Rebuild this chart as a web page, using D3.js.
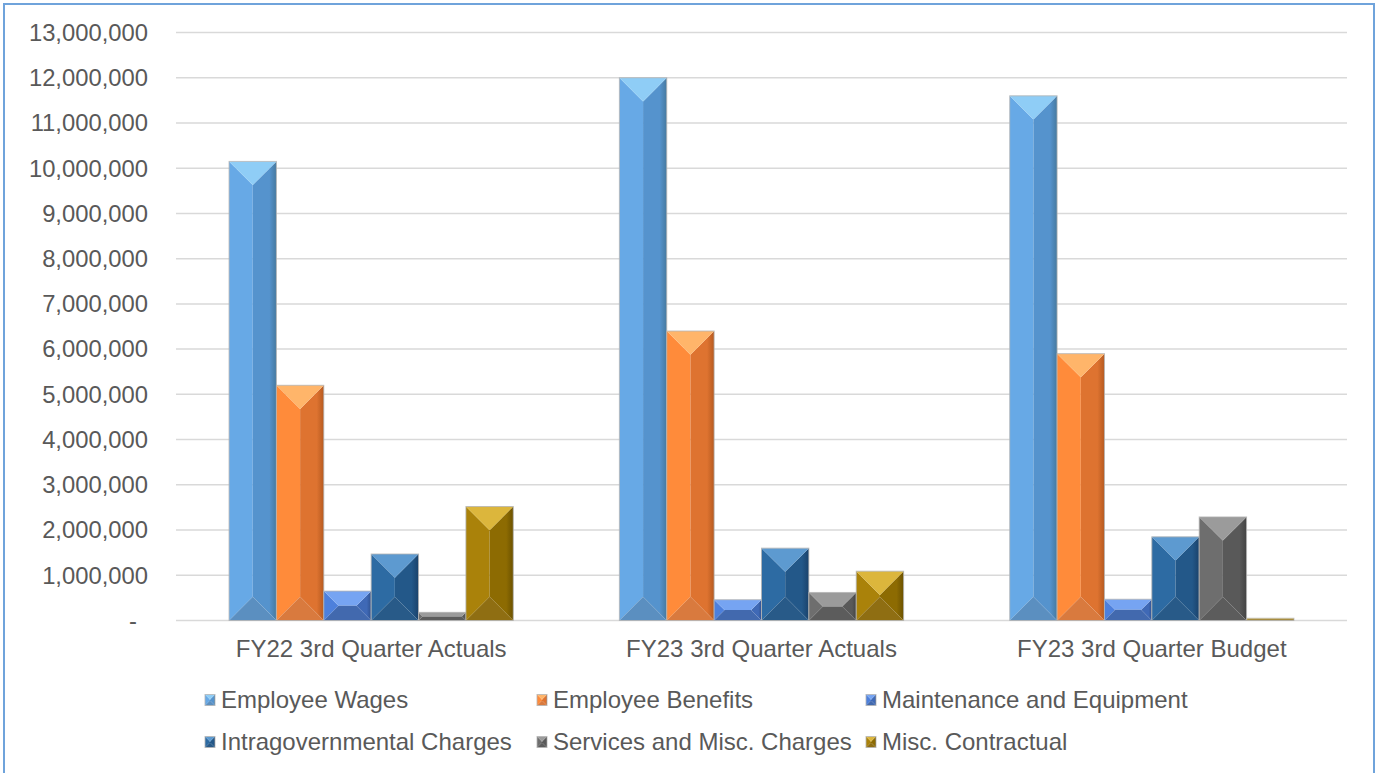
<!DOCTYPE html>
<html><head><meta charset="utf-8">
<script src="https://cdn.jsdelivr.net/npm/d3@7"></script>
<style>
html,body{margin:0;padding:0;background:#fff;}
svg{display:block;font-family:"Liberation Sans",Arial,sans-serif;}
</style></head>
<body><svg id="c" width="1378" height="773"></svg>
<script>
const categories = ["FY22 3rd Quarter Actuals","FY23 3rd Quarter Actuals","FY23 3rd Quarter Budget"];
const seriesNames = ["Employee Wages","Employee Benefits","Maintenance and Equipment","Intragovernmental Charges","Services and Misc. Charges","Misc. Contractual"];
const employeeWages = [10150000, 12000000, 11600000];
const employeeBenefits = [5200000, 6400000, 5900000];
const maintenanceEquipment = [650000, 460000, 470000];
const intragovernmentalCharges = [1470000, 1600000, 1850000];
const servicesMiscCharges = [180000, 620000, 2290000];
const miscContractual = [2520000, 1090000, 50000];
const yTicks = [0,1000000,2000000,3000000,4000000,5000000,6000000,7000000,8000000,9000000,10000000,11000000,12000000,13000000];
const seriesValues = [employeeWages, employeeBenefits, maintenanceEquipment, intragovernmentalCharges, servicesMiscCharges, miscContractual];

// bevel palettes: [left, right, rightEdge, top, bottom]
const palettes = [
  ["#67a9e6","#5593cd","#45799f","#8fcdf6","#5b8fc0"],
  ["#ff8b3a","#de7330","#b65a20","#ffb56a","#d97a3e"],
  ["#4d80dc","#3f69b6","#2f5190","#76a4f2","#4269ae"],
  ["#2d6ba3","#235889","#1a426b","#5d9ad0","#285a88"],
  ["#6e6e6e","#595959","#434343","#9b9b9b","#5c5c5c"],
  ["#aa820a","#8d6b02","#6c5200","#dcb63c","#8f6e12"]
];

const svg = d3.select("#c");
const W = 1378, H = 773;

// frame
svg.append("rect").attr("x",4).attr("y",4).attr("width",W-8).attr("height",H+10)
  .attr("fill","#fff").attr("stroke","#6fa3db").attr("stroke-width",2);

const y = d3.scaleLinear().domain([0,13000000]).range([620.5,32.5]);
const x0 = d3.scaleBand().domain(categories).range([176,1347]).paddingInner(0).paddingOuter(0);
const x1 = d3.scaleBand().domain(seriesNames).range([0,x0.bandwidth()]).paddingInner(0).paddingOuter(1.12);

// gradients for right faces
const defs = svg.append("defs");
palettes.forEach((p,i)=>{
  const g = defs.append("linearGradient").attr("id","rg"+i).attr("x1","0").attr("x2","1").attr("y1","0").attr("y2","0");
  g.append("stop").attr("offset","0%").attr("stop-color",p[1]);
  g.append("stop").attr("offset","70%").attr("stop-color",p[1]);
  g.append("stop").attr("offset","100%").attr("stop-color",p[2]);
});

// gridlines
svg.append("g").selectAll("line").data(yTicks).join("line")
  .attr("x1",176).attr("x2",1347)
  .attr("y1",d=>y(d)).attr("y2",d=>y(d))
  .attr("stroke","#d9d9d9").attr("stroke-width",1.5);

// y axis labels
const fmt = d3.format(",");
svg.append("g").selectAll("text").data(yTicks).join("text")
  .attr("x",d=>d===0?137:148).attr("y",d=>y(d))
  .attr("dy","0.35em").attr("text-anchor","end")
  .attr("fill","#595959").attr("font-size","23.8px")
  .text(d=>d===0?"-":fmt(d));

// bevel bar drawer
function bevel(g, x, yTop, w, h, pi){
  const p = palettes[pi];
  if(h<=0) return;
  const d = Math.min(w/2, h/2);
  const L=x, R=x+w, T=yTop, B=yTop+h, M=x+w/2;
  const poly = (pts, fill) => g.append("polygon").attr("points", pts.map(q=>q.join(",")).join(" ")).attr("fill",fill);
  poly([[L,T],[L+d,T+d],[L+d,B-d],[L,B]], p[0]);
  poly([[R,T],[R-d,T+d],[R-d,B-d],[R,B]], `url(#rg${pi})`);
  if(R-d - (L+d) > 0.01 && B-d-(T+d) > 0.01){
    poly([[L+d,T+d],[M,T+d],[M,B-d],[L+d,B-d]], p[0]);
    poly([[M,T+d],[R-d,T+d],[R-d,B-d],[M,B-d]], p[1]);
  }
  poly([[L,T],[R,T],[R-d,T+d],[L+d,T+d]], p[3]);
  poly([[L,B],[R,B],[R-d,B-d],[L+d,B-d]], p[4]);
  g.append("rect").attr("x",L).attr("y",T).attr("width",w).attr("height",h)
    .attr("fill","none").attr("stroke","#b4b4b4").attr("stroke-opacity",0.8).attr("stroke-width",1);
}

// bars
const barsG = svg.append("g");
categories.forEach((cat,ci)=>{
  seriesNames.forEach((s,si)=>{
    const v = seriesValues[si][ci];
    const bx = x0(cat)+x1(s);
    const bw = x1.bandwidth();
    bevel(barsG.append("g"), bx, y(v), bw, y(0)-y(v), si);
  });
});

// category labels
svg.append("g").selectAll("text").data(categories).join("text")
  .attr("x",d=>x0(d)+x0.bandwidth()/2).attr("y",657)
  .attr("text-anchor","middle").attr("fill","#595959").attr("font-size","24px")
  .text(d=>d);

// legend
const legX = [205, 537, 866];
const legY = [700, 742];
const legG = svg.append("g");
seriesNames.forEach((s,i)=>{
  const col = i%3, row = Math.floor(i/3);
  const g = legG.append("g");
  bevel(g, legX[col], legY[row]-5.5, 10, 11, i);
  g.append("text").attr("x",legX[col]+16).attr("y",legY[row]).attr("dy","0.35em")
    .attr("fill","#595959").attr("font-size","24px").text(s);
});
</script>
</body></html>
